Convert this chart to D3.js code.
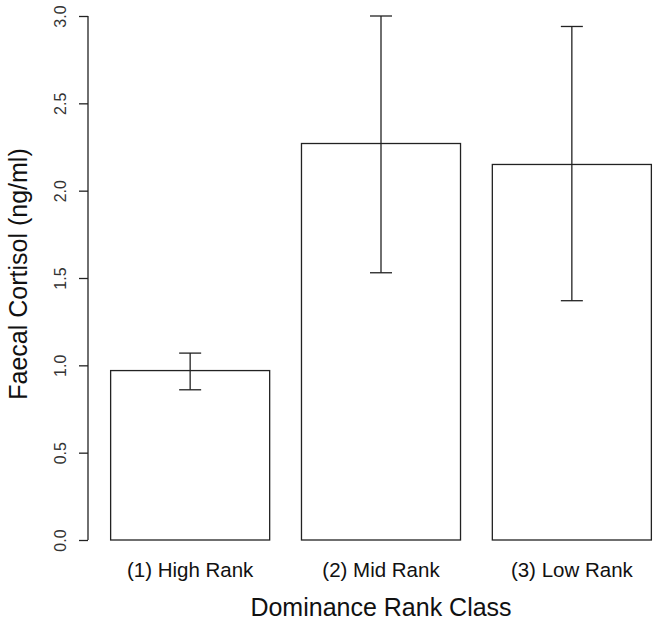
<!DOCTYPE html>
<html>
<head>
<meta charset="utf-8">
<script src="https://cdn.jsdelivr.net/npm/d3@7"></script>
<style>
  body { margin: 0; background: #fff; }
  svg { display: block; font-family: "Liberation Sans", Arial, sans-serif; }
</style>
</head>
<body>
<div id="graph"></div>
<script>
// data
const categories = ["(1) High Rank", "(2) Mid Rank", "(3) Low Rank"];
const means = [0.97, 2.27, 2.15];
const errUpper = [1.07, 3.0, 2.94];
const errLower = [0.86, 1.53, 1.37];
const yTicks = [0, 0.5, 1.0, 1.5, 2.0, 2.5, 3.0];

const width = 658, height = 623;
const ink = "#222";

const svg = d3.select("#graph")
  .append("svg")
  .attr("width", width)
  .attr("height", height);

// R barplot geometry: bar width 1, space 0.2, x range extended by 4%
const barW = 1, space = 0.2;
const lefts = categories.map((d, i) => space + i * (barW + space));
const xMin = lefts[0], xMax = lefts[lefts.length - 1] + barW;
const pad = (xMax - xMin) * 0.04;
const x = d3.scaleLinear().domain([xMin - pad, xMax + pad]).range([89, 673]);
const y = d3.scaleLinear().domain([0, 3]).range([540, 16]);

/** bars */
svg.selectAll("rect.bar")
  .data(categories)
  .join("rect")
  .attr("class", "bar")
  .attr("x", (d, i) => x(lefts[i]))
  .attr("y", (d, i) => y(means[i]))
  .attr("width", (d, i) => x(lefts[i] + barW) - x(lefts[i]))
  .attr("height", (d, i) => y(0) - y(means[i]))
  .style("fill", "#fff")
  .style("stroke", ink)
  .style("stroke-width", 1.3);

/** error bars */
const capHalf = 11;
const eb = svg.selectAll("g.err")
  .data(categories)
  .join("g")
  .attr("class", "err")
  .attr("transform", (d, i) => `translate(${x(lefts[i] + barW / 2)},0)`);

eb.append("line")
  .attr("y1", (d, i) => y(errLower[i]))
  .attr("y2", (d, i) => y(errUpper[i]))
  .style("stroke", ink).style("stroke-width", 1.3);

eb.append("line")
  .attr("x1", -capHalf).attr("x2", capHalf)
  .attr("y1", (d, i) => y(errUpper[i]))
  .attr("y2", (d, i) => y(errUpper[i]))
  .style("stroke", ink).style("stroke-width", 1.3);

eb.append("line")
  .attr("x1", -capHalf).attr("x2", capHalf)
  .attr("y1", (d, i) => y(errLower[i]))
  .attr("y2", (d, i) => y(errLower[i]))
  .style("stroke", ink).style("stroke-width", 1.3);

/** y axis */
const yAxis = svg.append("g")
  .attr("transform", "translate(88,0)")
  .call(d3.axisLeft(y).tickValues(yTicks).tickFormat(d3.format(".1f")).tickSize(9).tickPadding(0));

yAxis.select(".domain")
  .attr("d", `M0,${y(3)}V${y(0)}`)
  .style("stroke", ink).style("stroke-width", 1.3);
yAxis.selectAll(".tick line").style("stroke", ink).style("stroke-width", 1.3);
yAxis.selectAll(".tick text")
  .attr("x", null).attr("dy", null)
  .attr("transform", "translate(-22,0) rotate(-90)")
  .attr("text-anchor", "middle")
  .style("font-size", "16px")
  .style("fill", "#333");

/** category labels */
svg.selectAll("text.cat")
  .data(categories)
  .join("text")
  .attr("class", "cat")
  .attr("x", (d, i) => x(lefts[i] + barW / 2))
  .attr("y", 577)
  .attr("text-anchor", "middle")
  .style("font-size", "20.5px")
  .style("fill", "#111")
  .text(d => d);

// axis titles
svg.append("text")
  .attr("x", 381)
  .attr("y", 616)
  .attr("text-anchor", "middle")
  .style("font-size", "25px")
  .style("fill", "#111")
  .text("Dominance Rank Class");

svg.append("text")
  .attr("transform", "translate(27,274) rotate(-90)")
  .attr("text-anchor", "middle")
  .style("font-size", "25px")
  .style("fill", "#111")
  .text("Faecal Cortisol (ng/ml)");
</script>
</body>
</html>
